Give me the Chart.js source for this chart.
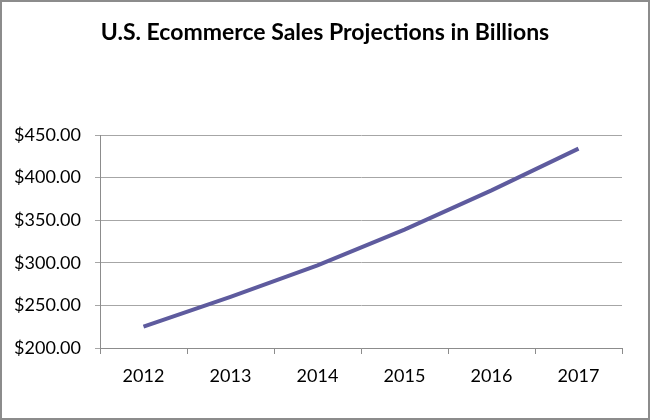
<!DOCTYPE html>
<html>
<head>
<meta charset="utf-8">
<script src="https://cdn.jsdelivr.net/npm/chart.js@4"></script>
<style>
  html, body { margin: 0; padding: 0; background: #fff; }
  #wrap { width: 650px; height: 420px; }
</style>
</head>
<body>
<div id="wrap"><canvas id="c" width="650" height="420"></canvas></div>
<script>
const titleText = 'U.S. Ecommerce Sales Projections in Billions';
const years = ['2012', '2013', '2014', '2015', '2016', '2017'];
const sales = [225, 260, 297, 339, 385, 434];
const yMin = 200, yMax = 450, yStep = 50;

const frame = {
  id: 'frame',
  beforeDraw(chart) {
    const ctx = chart.ctx;
    ctx.save();
    ctx.fillStyle = '#ffffff';
    ctx.fillRect(0, 0, chart.width, chart.height);
    ctx.restore();
  },
  afterDraw(chart) {
    const ctx = chart.ctx;
    ctx.save();
    ctx.strokeStyle = '#8c8c8c';
    ctx.lineWidth = 2;
    ctx.strokeRect(1, 1, chart.width - 2, chart.height - 2);
    ctx.restore();
  }
};

new Chart(document.getElementById('c'), {
  type: 'line',
  data: {
    labels: years,
    datasets: [{
      data: sales,
      borderColor: '#5e5b9e',
      borderWidth: 4,
      pointRadius: 0,
      tension: 0,
      fill: false
    }]
  },
  options: {
    responsive: false,
    animation: false,
    layout: { padding: { left: 0, right: 0, top: 0, bottom: 0 } },
    plugins: {
      legend: { display: false },
      tooltip: { enabled: false },
      title: {
        display: true,
        text: titleText,
        color: '#000000',
        font: { family: 'Lato', size: 23, weight: 'bold', lineHeight: 1.2 },
        padding: { top: 19.2, bottom: 88.2 }
      }
    },
    scales: {
      x: {
        offset: true,
        grid: {
          offset: true,
          drawOnChartArea: false,
          drawTicks: true,
          tickLength: 6,
          color: '#8c8c8c'
        },
        border: { display: true, color: '#8c8c8c', width: 1 },
        ticks: {
          color: '#000000',
          font: { family: 'Lato', size: 18 },
          padding: 11
        },
        afterFit(scale) { scale.height = 72; }
      },
      y: {
        min: yMin,
        max: yMax,
        grid: {
          color: '#a6a6a6',
          drawTicks: true,
          tickLength: 5
        },
        border: { display: true, color: '#8c8c8c', width: 1 },
        ticks: {
          stepSize: yStep,
          color: '#000000',
          font: { family: 'Lato', size: 18 },
          padding: 14,
          callback: v => '$' + Number(v).toFixed(2)
        },
        afterFit(scale) { scale.width = 100; }
      },
      spacer: {
        type: 'linear',
        position: 'right',
        min: yMin,
        max: yMax,
        grid: { display: false, drawOnChartArea: false },
        border: { display: false },
        ticks: { display: false },
        afterFit(scale) { scale.width = 28; }
      }
    }
  },
  plugins: [frame]
});
</script>
</body>
</html>
